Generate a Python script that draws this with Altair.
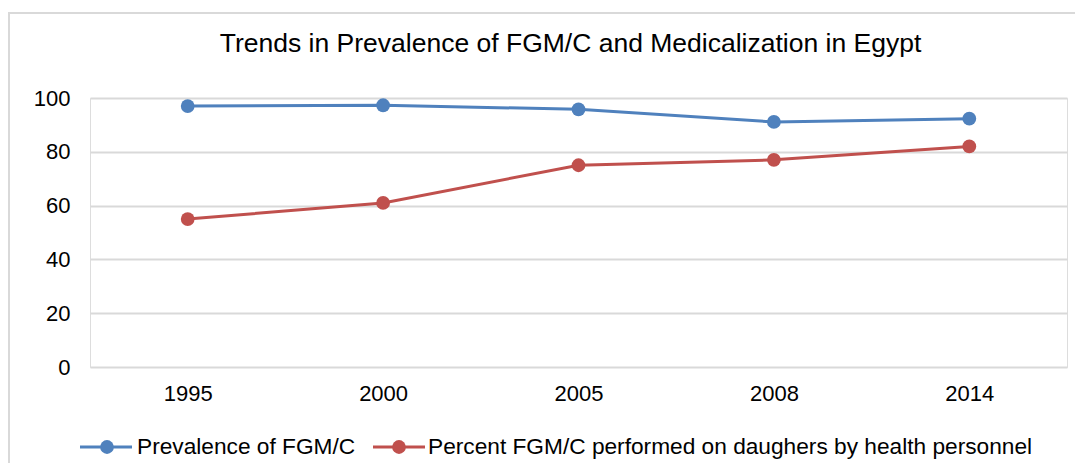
import altair as alt
import pandas as pd

years = ["1995", "2000", "2005", "2008", "2014"]
series_names = ["Prevalence of FGM/C",
                "Percent FGM/C performed on daughers by health personnel"]
prevalence = [97.0, 97.3, 95.8, 91.1, 92.3]
medicalization = [55.0, 61.0, 75.0, 77.0, 82.0]
colors = ["#4F81BD", "#C0504D"]
y_ticks = [0, 20, 40, 60, 80, 100]
title_text = "Trends in Prevalence of FGM/C and Medicalization in Egypt"

FONT = "Liberation Sans"

rows = []
for name, vals in zip(series_names, [prevalence, medicalization]):
    for yr, v in zip(years, vals):
        rows.append({"year": yr, "value": v, "series": name})
df = pd.DataFrame(rows)

color_scale = alt.Scale(domain=series_names, range=colors)

x_enc = alt.X("year:O", sort=years,
              scale=alt.Scale(type="point", padding=0.5),
              axis=alt.Axis(title=None, labelAngle=0, ticks=False, domain=False,
                            labelFont=FONT, labelFontSize=22, labelColor="#000000",
                            labelPadding=16, grid=False))
y_enc = alt.Y("value:Q", scale=alt.Scale(domain=[0, 100], nice=False),
              axis=alt.Axis(title=None, values=y_ticks, ticks=False, domain=False,
                            labelFont=FONT, labelFontSize=22, labelColor="#000000",
                            labelPadding=20, grid=True, gridColor="#D9D9D9",
                            gridWidth=2))

base = alt.Chart(df)
lines = base.mark_line(strokeWidth=3).encode(
    x=x_enc, y=y_enc,
    color=alt.Color("series:N", scale=color_scale, legend=None),
    detail="series:N",
)
points = base.mark_point(filled=True, size=190, opacity=1).encode(
    x=x_enc, y=y_enc,
    color=alt.Color("series:N", scale=color_scale, legend=None),
)

# outer chart border (decoration)
border_df = pd.DataFrame({"k": [0]})
border = alt.Chart(border_df).mark_rect(
    fill="transparent", stroke="#D9D9D9", strokeWidth=2
).encode(x=alt.value(-81), x2=alt.value(1010), y=alt.value(-85), y2=alt.value(400))

# manual legend
leg_layers = []
leg_specs = [
    (series_names[0], colors[0], -10, 42, 17, 47),
    (series_names[1], colors[1], 283, 335, 309, 338),
]
leg_y = 349
for name, col, x1, x2, cx, tx in leg_specs:
    ldf = pd.DataFrame({"label": [name]})
    leg_layers.append(alt.Chart(ldf).mark_rule(color=col, strokeWidth=3).encode(
        x=alt.value(x1), x2=alt.value(x2), y=alt.value(leg_y)))
    leg_layers.append(alt.Chart(ldf).mark_point(filled=True, size=190, color=col, opacity=1).encode(
        x=alt.value(cx), y=alt.value(leg_y)))
    leg_layers.append(alt.Chart(ldf).mark_text(
        align="left", baseline="middle", font=FONT, fontSize=22.7, color="#000000"
    ).encode(x=alt.value(tx), y=alt.value(leg_y), text="label:N"))

chart = alt.layer(border, lines, points, *leg_layers).properties(
    width=977, height=269,
    title=alt.TitleParams(title_text, font=FONT, fontSize=26.5, fontWeight="normal",
                          color="#000000", anchor="middle", frame="group",
                          baseline="alphabetic", offset=0, dy=66, dx=-8),
    autosize=alt.AutoSizeParams(type="none"),
    padding={"left": 82, "top": 90, "right": 8, "bottom": 96},
).configure_view(stroke=None).configure(background="white")

chart.save("out.html", embed_options={"renderer": "svg", "actions": False})
